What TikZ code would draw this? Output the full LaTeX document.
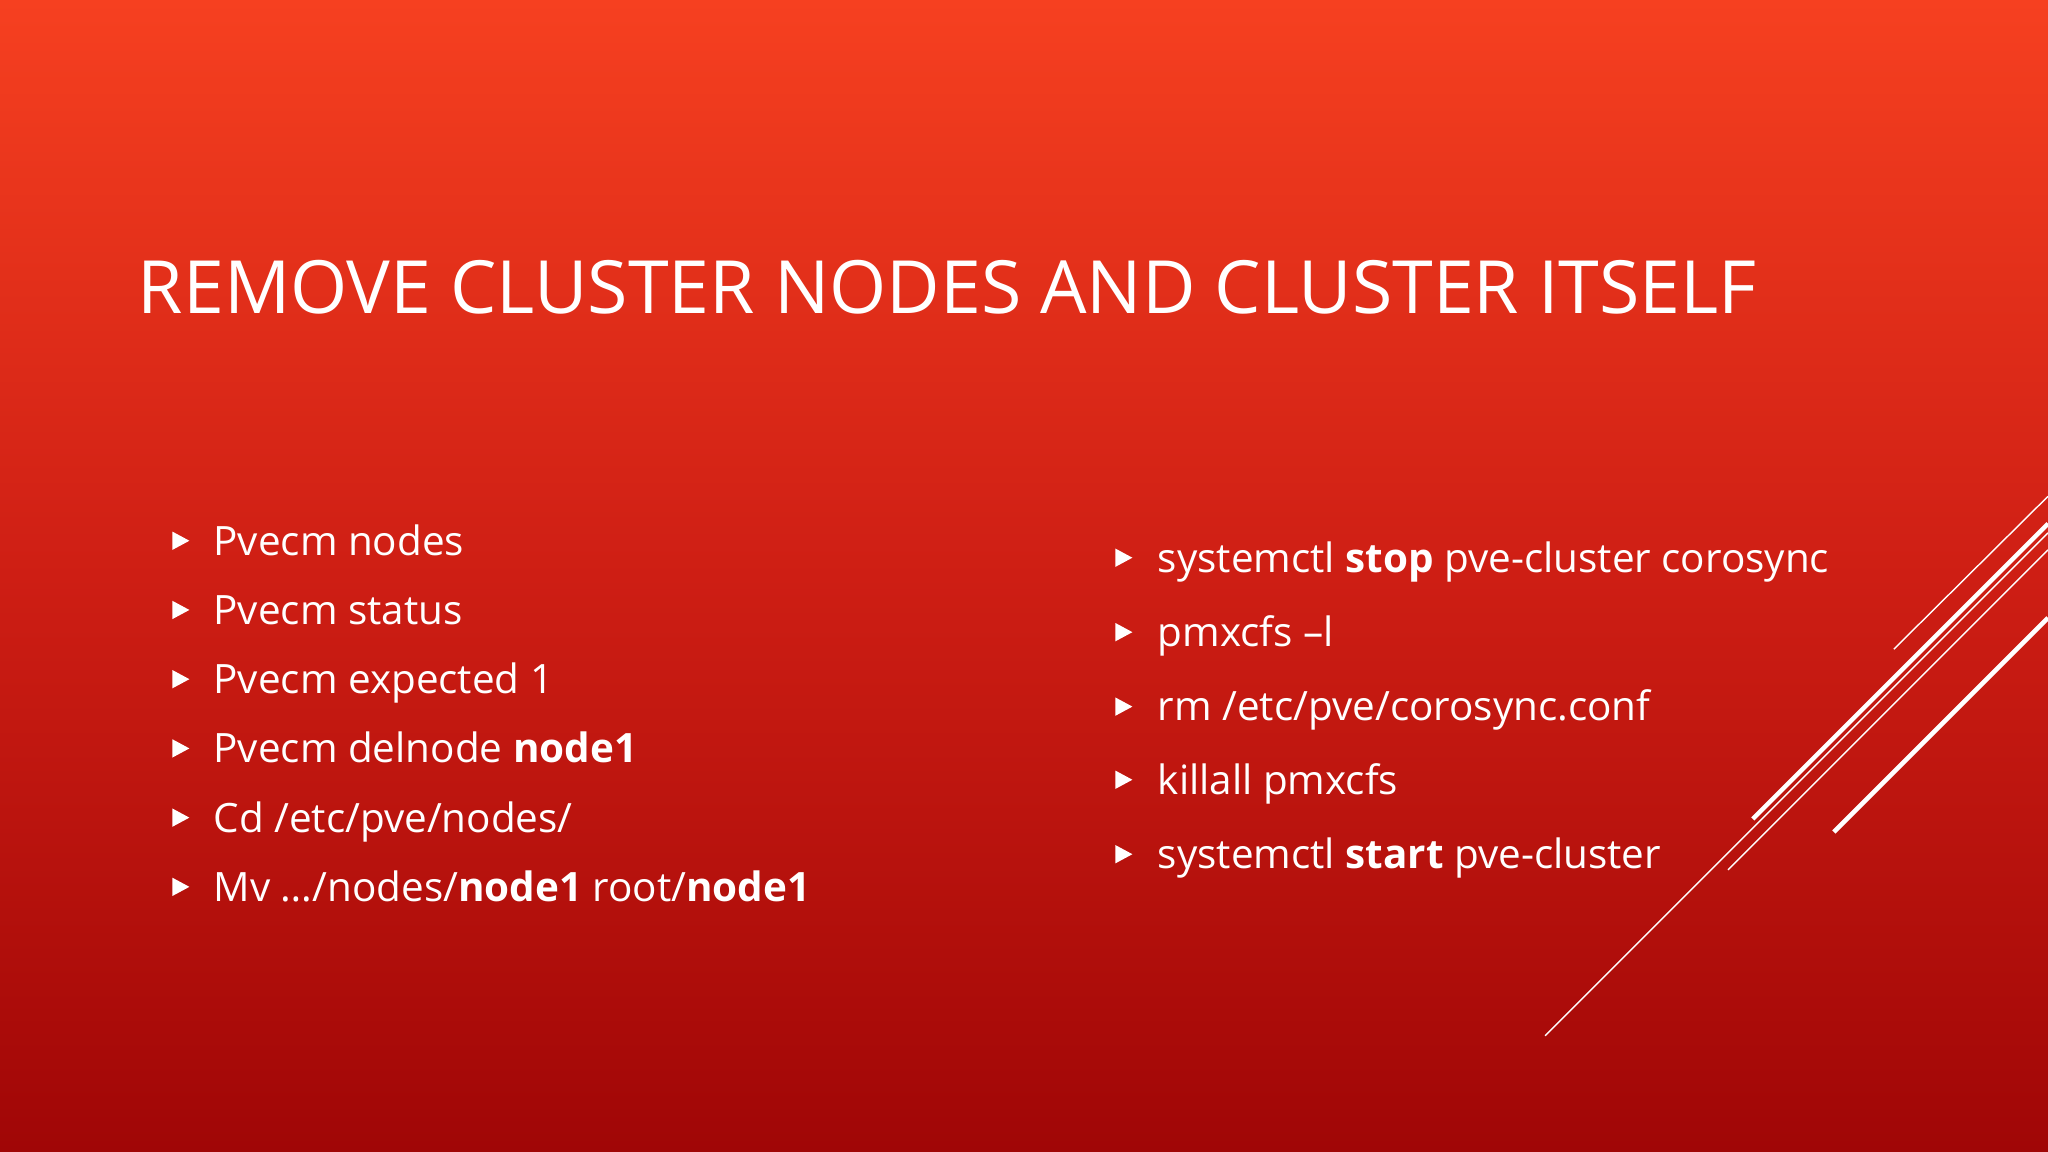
\documentclass[tikz,border=0pt]{standalone}
\usepackage{fontspec}
\setmainfont{Open Sans}
\begin{document}
\begin{tikzpicture}[x=0.01306cm,y=-0.01306cm,
  bul/.style={fill=white,draw=none},
  txt/.style={anchor=base west,text=white,font=\fontsize{11.5pt}{13pt}\selectfont,inner sep=0pt},
  deco/.style={draw=white}]
\shade[top color={rgb,255:red,246;green,64;blue,32},bottom color={rgb,255:red,160;green,6;blue,6},middle color={rgb,255:red,206;green,30;blue,20}] (0,0) rectangle (1568,882);
\useasboundingbox (0,0) rectangle (1568,882);
\node[anchor=base west,text=white,inner sep=0pt,font=\fontsize{20.9pt}{24pt}\selectfont] (title) at (105,240) {REMOVE CLUSTER NODES AND CLUSTER ITSELF};
\foreach \y/\t [count=\i] in {414/{Pvecm nodes},467/{Pvecm status},520/{Pvecm expected 1},573/{Pvecm delnode \textbf{node1}},626/{Cd /etc/pve/nodes/},679/{Mv \ldots/nodes/\textbf{node1} root/\textbf{node1}}}{
  \fill[bul] (132,\y-7) -- (145,\y) -- (132,\y+7) -- cycle;
  \node[txt] (l\i) at (163,\y+11) {\t};
}
\foreach \y/\t [count=\i] in {427/{systemctl \textbf{stop} pve-cluster corosync},484/{pmxcfs –l},541/{rm /etc/pve/corosync.conf},597/{killall pmxcfs},654/{systemctl \textbf{start} pve-cluster}}{
  \fill[bul] (854,\y-7) -- (867,\y) -- (854,\y+7) -- cycle;
  \node[txt] (r\i) at (886,\y+11) {\t};
}
\draw[deco,line width=0.4pt] (1450,497) -- (1568,380);
\draw[deco,line width=1.3pt] (1342,627) -- (1568,401);
\draw[deco,line width=0.4pt] (1323,666) -- (1568,421);
\draw[deco,line width=1.3pt] (1404,637) -- (1568,473);
\draw[deco,line width=0.4pt] (1183,793) -- (1568,408);
\end{tikzpicture}
\end{document}
